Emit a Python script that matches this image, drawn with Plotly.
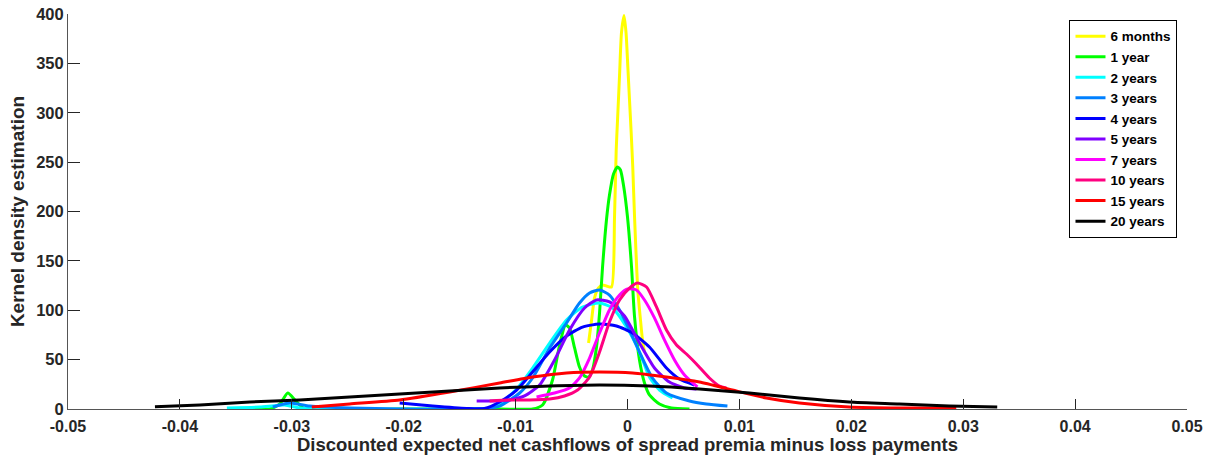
import plotly.graph_objects as go

# ---- data ----
series_names = ["6 months", "1 year", "2 years", "3 years", "4 years",
                "5 years", "7 years", "10 years", "15 years", "20 years"]
series_colors = ["#FFFF00", "#00FF00", "#00FFFF", "#0080FF", "#0000FF",
                 "#8000FF", "#FF00FF", "#FF0080", "#FF0000", "#000000"]

x_6m = [-0.00348, -0.00321, -0.00295, -0.00259, -0.00223, -0.00188, -0.00143, -0.00116,
        -0.00101, -0.00089, -0.00071, -0.00054, -0.00031, -0.00013, 0.00003, 0.00018,
        0.00033, 0.00047, 0.00063, 0.00092, 0.00116, 0.00134, 0.00152]
y_6m = [66.8, 90.1, 112.4, 122.6, 125.6, 124.6, 123.5, 194.4,
        262.3, 292.7, 338.2, 380.8, 398.5, 380.8, 346.3, 312.9,
        279.5, 245.1, 194.4, 120.5, 90.1, 69.9, 57.7]

x_1y = [-0.03348, -0.03196, -0.03107, -0.03036, -0.02964, -0.02884, -0.02036, -0.01143,
        -0.00848, -0.00759, -0.00670, -0.00607, -0.00554, -0.00518, -0.00473, -0.00429,
        -0.00384, -0.00348, -0.00313, -0.00277, -0.00250, -0.00223, -0.00188, -0.00161,
        -0.00125, -0.00089, -0.00063, -0.00036, 0.00000, 0.00036, 0.00063, 0.00107,
        0.00152, 0.00196, 0.00286, 0.00393, 0.00554]
y_1y = [0, 0, 5.1, 16.2, 8.1, 0, 0, 0,
        0, 4.1, 29.4, 64.8, 85.1, 82.0, 61.8, 42.5,
        33.4, 32.4, 39.5, 62.8, 97.2, 143.8, 191.4, 216.7,
        238.0, 245.1, 242.0, 226.8, 194.4, 143.8, 93.2, 49.6,
        26.3, 14.2, 5.1, 1.0, 0]

x_2y = [-0.03580, -0.03286, -0.03063, -0.02929, -0.02482, -0.01589, -0.01232, -0.01143,
        -0.00991, -0.00848, -0.00696, -0.00545, -0.00402, -0.00250, -0.00134, -0.00009,
        0.00107, 0.00196, 0.00286, 0.00402]
y_2y = [1.0, 2.0, 4.1, 1.0, 0, 0, 1.0, 5.1,
        20.3, 41.5, 66.8, 90.1, 103.3, 107.3, 102.3, 83.0,
        57.7, 32.4, 19.2, 11.1]

x_3y = [-0.03170, -0.03018, -0.02839, -0.02482, -0.02036, -0.01321, -0.01143, -0.00964,
        -0.00848, -0.00696, -0.00545, -0.00429, -0.00339, -0.00250, -0.00161, -0.00071,
        0.00018, 0.00107, 0.00223, 0.00348, 0.00554, 0.00705, 0.00893]
y_3y = [2.0, 6.1, 3.0, 1.0, 0, 0, 3.0, 16.2,
        31.4, 61.8, 87.1, 107.3, 117.5, 120.5, 115.4, 100.3,
        80.0, 57.7, 31.4, 16.2, 8.1, 5.1, 3.0]

x_4y = [-0.02036, -0.01741, -0.01438, -0.01277, -0.01143, -0.00991, -0.00848, -0.00696,
        -0.00545, -0.00402, -0.00250, -0.00098, 0.00045, 0.00196, 0.00348, 0.00464, 0.00598]
y_4y = [6.1, 3.0, 0.5, 0.5, 7.1, 19.2, 37.5, 57.7,
        73.9, 83.0, 86.1, 84.1, 77.0, 62.8, 41.5, 30.4, 24.3]

x_5y = [-0.01348, -0.01188, -0.01054, -0.00920, -0.00786, -0.00652, -0.00518, -0.00384,
        -0.00277, -0.00161, -0.00027, 0.00107, 0.00241, 0.00375, 0.00509, 0.00616]
y_5y = [8.1, 8.1, 9.1, 13.2, 24.3, 49.6, 80.0, 102.3,
        110.4, 108.4, 94.2, 66.8, 41.5, 27.3, 21.3, 20.3]

x_7y = [-0.00813, -0.00652, -0.00518, -0.00429, -0.00339, -0.00250, -0.00161, -0.00071,
        0.00000, 0.00080, 0.00152, 0.00241, 0.00330, 0.00420, 0.00509, 0.00625]
y_7y = [12.2, 16.2, 21.3, 31.4, 51.6, 77.0, 100.3, 115.4,
        121.5, 120.5, 110.4, 92.2, 69.9, 49.6, 34.4, 22.3]

x_10y = [-0.01232, -0.01054, -0.00875, -0.00696, -0.00563, -0.00446, -0.00339, -0.00250,
         -0.00161, -0.00071, 0.00018, 0.00089, 0.00170, 0.00259, 0.00348, 0.00438,
         0.00527, 0.00616, 0.00732, 0.00821, 0.00884]
y_10y = [8.1, 9.1, 9.1, 10.1, 13.2, 19.2, 32.4, 57.7,
         88.1, 110.4, 122.5, 127.6, 123.5, 103.3, 80.0, 64.8,
         55.7, 45.6, 31.4, 23.3, 21.3]

x_15y = [-0.02821, -0.02482, -0.02036, -0.01589, -0.01143, -0.00848, -0.00545, -0.00250,
         0.00045, 0.00348, 0.00643, 0.00937, 0.01241, 0.01536, 0.01982, 0.02429, 0.02938]
y_15y = [2.0, 5.1, 9.1, 17.2, 26.3, 32.4, 36.5, 37.5,
         36.5, 32.4, 27.3, 19.2, 11.1, 6.1, 2.0, 1.0, 1.0]

x_20y = [-0.04223, -0.03821, -0.03375, -0.02929, -0.02482, -0.02036, -0.01589, -0.01143,
         -0.00696, -0.00250, 0.00196, 0.00643, 0.01089, 0.01536, 0.01982, 0.02429,
         0.02875, 0.03304]
y_20y = [2.3, 4.1, 7.1, 9.1, 12.2, 15.2, 18.2, 21.3,
         23.3, 24.3, 23.3, 20.3, 16.2, 11.1, 7.1, 5.1,
         3.0, 2.0]

x_ticks = [-0.05, -0.04, -0.03, -0.02, -0.01, 0, 0.01, 0.02, 0.03, 0.04, 0.05]
x_tick_labels = ["-0.05", "-0.04", "-0.03", "-0.02", "-0.01", "0",
                 "0.01", "0.02", "0.03", "0.04", "0.05"]
y_ticks = [0, 50, 100, 150, 200, 250, 300, 350, 400]

xs = [x_6m, x_1y, x_2y, x_3y, x_4y, x_5y, x_7y, x_10y, x_15y, x_20y]
ys = [y_6m, y_1y, y_2y, y_3y, y_4y, y_5y, y_7y, y_10y, y_15y, y_20y]

FONT = "Liberation Sans, Arial, Helvetica, sans-serif"
AX = "#262626"

fig = go.Figure()
for name, color, xv, yv in zip(series_names, series_colors, xs, ys):
    fig.add_trace(go.Scatter(
        x=xv, y=yv, mode="lines", name=name,
        line=dict(color=color, width=3, shape="spline", smoothing=0.6),
    ))

fig.update_layout(
    width=1206, height=455,
    margin=dict(l=68, r=19, t=14, b=46),
    paper_bgcolor="white", plot_bgcolor="white",
    font=dict(family=FONT, color=AX),
    showlegend=True,
    legend=dict(
        x=0.9915, xanchor="right", y=0.985, yanchor="top",
        bgcolor="white", bordercolor="#000000", borderwidth=1,
        font=dict(family=FONT, size=13.5, color="#000000", weight="bold"),
        tracegroupgap=0, itemwidth=30,
    ),
)
fig.update_xaxes(
    range=[-0.05, 0.05], tickvals=x_ticks, ticktext=x_tick_labels,
    showline=True, linecolor="#555555", linewidth=1, mirror=False,
    ticks="inside", ticklen=10, tickcolor=AX, tickwidth=1,
    showgrid=False, zeroline=False, automargin=False,
    ticklabelstandoff=3,
    tickfont=dict(family=FONT, size=16, color=AX, weight="bold"),
    title=dict(text="Discounted expected net cashflows of spread premia minus loss payments",
               font=dict(family=FONT, size=18.5, color=AX, weight="bold")),
)
fig.update_yaxes(
    range=[0, 400], tickvals=y_ticks,
    showline=True, linecolor="#555555", linewidth=1, mirror=False,
    ticks="inside", ticklen=12, tickcolor=AX, tickwidth=1,
    showgrid=False, zeroline=False, automargin=False,
    tickfont=dict(family=FONT, size=16.5, color=AX, weight="bold"),
    title=dict(text="Kernel density estimation", standoff=6,
               font=dict(family=FONT, size=19, color=AX, weight="bold")),
)

fig.write_html("out.html", config={"displayModeBar": False},
               post_script="document.body.style.margin='0';")
